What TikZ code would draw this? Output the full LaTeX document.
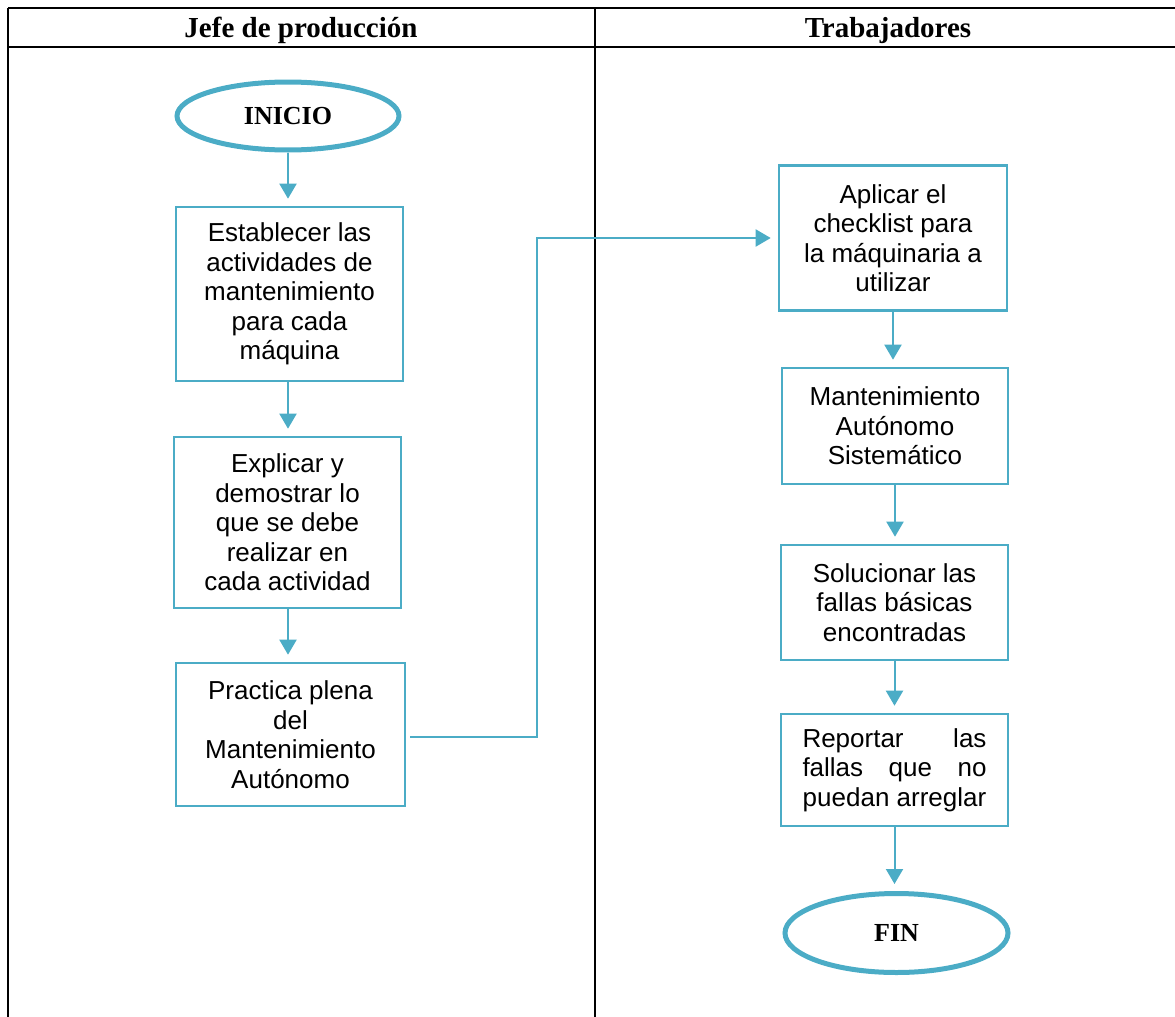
\documentclass[tikz,border=0pt]{standalone}
\usepackage{fontspec}
\setmainfont{Liberation Serif}
\newfontfamily\boxfont{Liberation Sans}
\usetikzlibrary{shapes.geometric,arrows.meta}
\definecolor{flowblue}{RGB}{75,172,198}
\tikzset{
  tableline/.style={draw=black,line width=2.6pt},
  headtext/.style={font=\fontsize{29}{33}\selectfont\bfseries,anchor=base},
  stepbox/.style={draw=flowblue,line width=2.6pt,rectangle,align=center,inner sep=0pt,
    font=\boxfont\fontsize{26}{29.5}\selectfont},
  term/.style={draw=flowblue,line width=5pt,ellipse,inner sep=0pt,
    font=\fontsize{26}{30}\selectfont\bfseries},
  flow/.style={draw=flowblue,line width=2pt,-{Triangle[length=15pt,width=17pt]},shorten >=7pt},
}
\begin{document}
\begin{tikzpicture}[x=1pt,y=-1pt]
\useasboundingbox (0,0) rectangle (1175,1017);
% table
\draw[tableline] (8,8) -- (1175,8);
\draw[tableline] (8,47) -- (1175,47);
\draw[tableline] (8,8) -- (8,1017);
\draw[tableline] (595,8) -- (595,1017);
\node[headtext] (h1) at (301,37.5) {Jefe de producción};
\node[headtext] (h2) at (888,37.5) {Trabajadores};
% left lane
\node[term,minimum width=222pt,minimum height=68pt] (ini) at (288,116) {INICIO};
\node[stepbox,minimum width=227pt,minimum height=174pt] (b1) at (289.5,294) {Establecer las\\actividades de\\mantenimiento\\para cada\\máquina};
\node[stepbox,minimum width=227pt,minimum height=171pt] (b2) at (287.5,522.5) {Explicar y\\demostrar lo\\que se debe\\realizar en\\cada actividad};
\node[stepbox,minimum width=229pt,minimum height=143pt] (b3) at (290.5,734.5) {Practica plena\\del\\Mantenimiento\\Autónomo};
% right lane
\node[stepbox,minimum width=228pt,minimum height=145pt] (b4) at (893,238) {Aplicar el\\checklist para\\la máquinaria a\\utilizar};
\node[stepbox,minimum width=226pt,minimum height=116pt] (b5) at (895,426) {Mantenimiento\\Autónomo\\Sistemático};
\node[stepbox,minimum width=227pt,minimum height=115pt] (b6) at (894.5,602.5) {Solucionar las\\fallas básicas\\encontradas};
\node[stepbox,minimum width=227pt,minimum height=112pt] (b7) at (894.5,770) {\makebox[184pt]{Reportar\hfill las}\\\makebox[184pt]{fallas\hfill que\hfill no}\\\makebox[184pt]{puedan arreglar}};
\node[term,minimum width=223pt,minimum height=79pt] (fin) at (896.5,933) {FIN};
% connectors
\draw[flow] (ini.south) -- (ini.south |- b1.north);
\draw[flow] (b1.south -| ini.south) -- (b2.north -| ini.south);
\draw[flow] (b2.south -| ini.south) -- (b3.north -| ini.south);
\coordinate (k) at (537,737);
\draw[flow,shorten <=4pt] (b3.east |- k) -- (k) |- (b4.west);
\draw[flow] (b4.south) -- (b4.south |- b5.north);
\draw[flow] (b5.south) -- (b5.south |- b6.north);
\draw[flow] (b6.south) -- (b6.south |- b7.north);
\draw[flow] (b7.south) -- (b7.south |- fin.north);
\end{tikzpicture}
\end{document}
